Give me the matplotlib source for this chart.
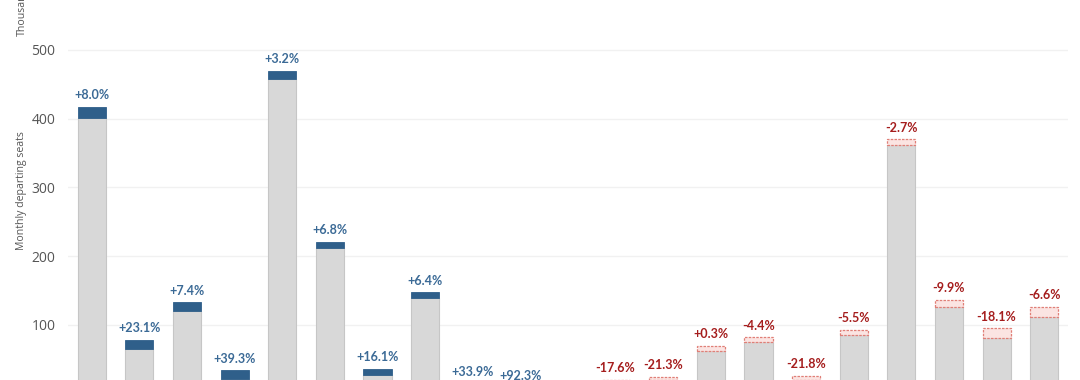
import matplotlib
matplotlib.use('Agg')
import matplotlib.pyplot as plt

# seats before / after (thousands); None = empty slot
before = [400.7, 65.1, 119.9, 22.0, 458.3, 211.5, 26.8, 138.8, 11.0, 4.5, None,
          20.0, 24.8, 69.9, 82.1, 25.8, 92.7, 370.1, 136.4, 95.2, 126.6]
after = [417.5, 78.2, 133.0, 34.1, 470.0, 221.2, 36.0, 147.5, 15.4, 8.8, None,
         16.0, 19.5, 62.6, 74.8, 20.2, 85.0, 361.3, 126.6, 80.6, 111.2]
labels = ['+8.0%', '+23.1%', '+7.4%', '+39.3%', '+3.2%', '+6.8%', '+16.1%', '+6.4%',
          '+33.9%', '+92.3%', None, '-17.6%', '-21.3%', '+0.3%', '-4.4%', '-21.8%',
          '-5.5%', '-2.7%', '-9.9%', '-18.1%', '-6.6%']
group = ['up'] * 10 + [None] + ['down'] * 10
yticks = [100, 200, 300, 400, 500]

GREY = '#d8d8d8'
GREY_EDGE = '#c6c6c6'
BLUE = '#2f5f8a'
BLUE_TXT = '#3b6a96'
RED_TXT = '#a51d1d'
PINK = '#fbe4e2'
PINK_EDGE = '#e07f77'

fig = plt.figure(figsize=(10.8, 3.8), dpi=100)
ax = fig.add_axes([68 / 1080, 0, 1000 / 1080, 1])
w = 0.59

for i, (b, a, lab, g) in enumerate(zip(before, after, labels, group)):
    if b is None:
        continue
    if g == 'up':
        ax.bar(i, b, width=w, color=GREY, edgecolor=GREY_EDGE, linewidth=0.8, zorder=2)
        ax.bar(i, a - b, bottom=b, width=w, color=BLUE, edgecolor=BLUE, linewidth=0.6, zorder=3)
        top, col = a, BLUE_TXT
    else:
        ax.bar(i, a, width=w, color=GREY, edgecolor=GREY_EDGE, linewidth=0.8, zorder=2)
        ax.bar(i, b - a, bottom=a, width=w, color=PINK, edgecolor=PINK_EDGE,
               linewidth=0.9, linestyle=(0, (2, 1)), zorder=3)
        top, col = b, RED_TXT
    ax.annotate(lab, (i, top), xytext=(0, 8.3), textcoords='offset points',
                ha='center', va='center', fontsize=9, fontweight='bold',
                family='Lato', color=col, annotation_clip=False)

ax.set_xlim(-0.5, 20.5)
ax.set_ylim(20.0, 572.7)
ax.set_yticks(yticks)
ax.set_xticks([])
ax.grid(axis='y', color='#f1f1f1', linewidth=1.0, zorder=0)
ax.set_axisbelow(True)
for s in ax.spines.values():
    s.set_visible(False)
ax.tick_params(axis='y', length=0, pad=9, labelsize=10, labelcolor='#555555')
for t in ax.get_yticklabels():
    t.set_family('Open Sans')

fig.text(22 / 1080, 1 - 191 / 380, 'Monthly departing seats', rotation=90,
         ha='center', va='center', fontsize=7.6, color='#555555', family='Open Sans')
fig.text(22 / 1080, 1 - 36 / 380, 'Thousands', rotation=90,
         ha='center', va='bottom', fontsize=7.6, color='#555555', family='Open Sans')

plt.savefig('out.png', dpi=100)
